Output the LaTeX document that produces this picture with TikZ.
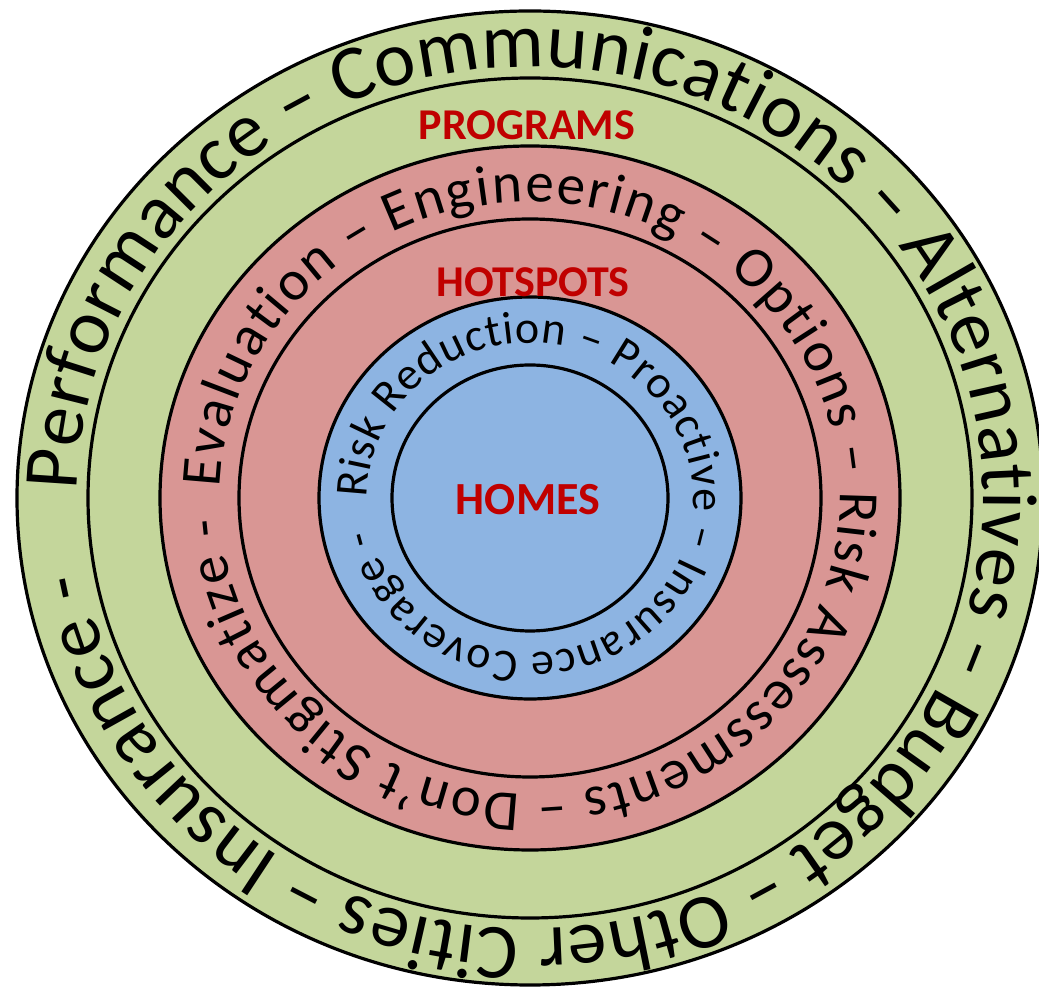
\documentclass[tikz,border=0pt]{standalone}
\usepackage{fontspec}
\setmainfont{Carlito}
\usetikzlibrary{decorations.text}
\definecolor{ringgreen}{RGB}{196,214,155}
\definecolor{ringred}{RGB}{217,150,148}
\definecolor{ringblue}{RGB}{141,180,226}
\definecolor{labelred}{RGB}{192,0,0}
\newcommand{\fontOuter}{\fontsize{78}{82}\selectfont}
\newcommand{\fontMid}{\fontsize{57}{60}\selectfont}
\newcommand{\fontInner}{\fontsize{46}{50}\selectfont}
\tikzset{
  ring/.style={draw=black, line width=3.2pt},
  ringtext/.style={decorate, decoration={text along path, text align={fit to path}, text={#1}}},
  centerlabel/.style={text=labelred, font=\bfseries\fontsize{44}{46}\selectfont, inner sep=0pt}
}
\begin{document}
\begin{tikzpicture}[x=1pt,y=1pt]
\useasboundingbox (0,0) rectangle (1039,990);
\coordinate (c) at (530,492);
% rings
\path[ring, fill=ringgreen] (c) ellipse [x radius=513, y radius=487];
\path[ring] (c) ellipse [x radius=442, y radius=420];
\path[ring, fill=ringred] (c) ellipse [x radius=370, y radius=352];
\path[ring] (c) ellipse [x radius=291, y radius=279];
\path[ring, fill=ringblue] (c) ellipse [x radius=211, y radius=201];
\path[ring] (c) ellipse [x radius=138, y radius=133];
% texts along rings (clockwise)
\path[ringtext={|\fontOuter|Performance – Communications – Alternatives – Budget – Other Cities – Insurance -}]
  ([shift={(179:453 and 431)}]c) arc[start angle=179, end angle=-170, x radius=453, y radius=431];
\path[ringtext={|\fontMid|Evaluation – Engineering – Options – Risk Assessments – Don’t Stigmatize -}]
  ([shift={(178:310 and 296)}]c) arc[start angle=178, end angle=-176, x radius=310, y radius=296];
\path[ringtext={|\fontInner|Risk Reduction – Proactive – Insurance Coverage -}]
  ([shift={(180:163 and 155)}]c) arc[start angle=180, end angle=-168, x radius=163, y radius=155];
% labels
\node[centerlabel] (programs) at (527,865) {PROGRAMS};
\node[centerlabel] (hotspots) at (533,708) {HOTSPOTS};
\node[centerlabel, font=\bfseries\fontsize{46}{48}\selectfont] (homes) at (528,490) {HOMES};
\end{tikzpicture}
\end{document}
